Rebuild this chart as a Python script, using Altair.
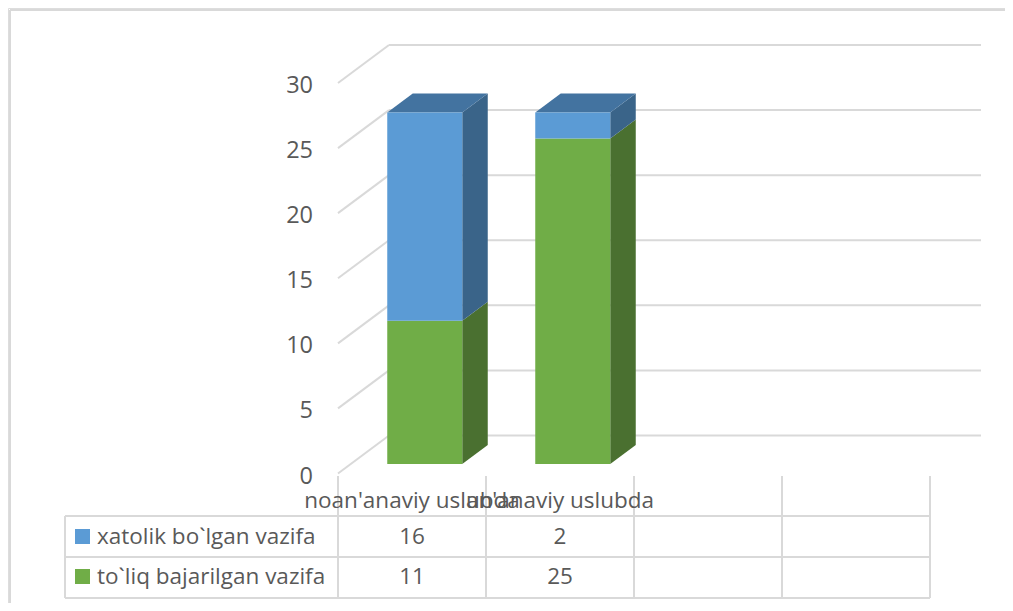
import altair as alt
import pandas as pd

# ---------------- data ----------------
categories = ["noan'anaviy uslubda", "an'anaviy uslubda", "", ""]
series_names = ["xatolik bo`lgan vazifa", "to`liq bajarilgan vazifa"]
xatolik = [16, 2]          # blue, stacked on top
toliq = [11, 25]           # green, bottom
y_ticks = [0, 5, 10, 15, 20, 25, 30]

# ---------------- style / geometry ----------------
FONT = "Open Sans"
TXT = "#595959"
GRID = "#D9D9D9"
DX = 51 / 148.0      # depth shift in x units (full depth)
DY = 38 / 13.02      # depth shift in y units (full depth)
HALF_W = 37.5 / 148.0
D_FRONT, D_BACK = 0.25, 0.75
TS = 22.5            # table text size

keys = ["b_front", "b_side", "b_top", "g_front", "g_side", "g_top"]
cols = ["#5B9BD5", "#3A6489", "#4373A0", "#70AD47", "#4A7030", "#56843A"]

xs = alt.Scale(domain=[0, 4], range=[330, 922], nice=False, zero=False)
ys = alt.Scale(domain=[0, 30], range=[465.5, 75], nice=False, zero=False)
cs = alt.Scale(domain=keys, range=cols)

# ---------------- faces ----------------
fronts, sides, tops = [], [], []
for i in range(len(toliq)):
    c = i + 0.5
    xl, xr = c - HALF_W, c + HALF_W
    segs = [("g", 0, toliq[i]), ("b", toliq[i], toliq[i] + xatolik[i])]
    for s, lo, hi in segs:
        fronts.append(dict(key=f"{s}_front", x=xl + D_FRONT * DX, x2=xr + D_FRONT * DX,
                           y=lo + D_FRONT * DY, y2=hi + D_FRONT * DY))
        for d in (D_FRONT, D_BACK):
            sides.append(dict(face=f"{i}{s}", key=f"{s}_side", x=xr + d * DX,
                              y=lo + d * DY, y2=hi + d * DY))
    top = toliq[i] + xatolik[i]
    for d in (D_FRONT, D_BACK):
        tops.append(dict(face=f"t{i}", key="b_top", y=top + d * DY,
                         x=xl + d * DX, x2=xr + d * DX))

df_front = pd.DataFrame(fronts)
df_side = pd.DataFrame(sides)
df_top = pd.DataFrame(tops)

df_ticks = pd.DataFrame({"v": y_ticks})
df_ticks["x0"] = 0.0
df_ticks["xb"] = DX
df_ticks["xe"] = 4 + DX
df_ticks["vb"] = df_ticks["v"] + DY
df_ticks["lab"] = df_ticks["v"].astype(str)

color = alt.Color("key:N", scale=cs, legend=None)

back_grid = alt.Chart(df_ticks).mark_rule(color=GRID, strokeWidth=2).encode(
    x=alt.X("xb:Q", scale=xs, axis=None), x2="xe:Q",
    y=alt.Y("vb:Q", scale=ys, axis=None))
wall = alt.Chart(df_ticks).mark_rule(color=GRID, strokeWidth=2).encode(
    x=alt.X("x0:Q", scale=xs, axis=None), x2="xb:Q",
    y=alt.Y("v:Q", scale=ys, axis=None), y2="vb:Q")
side_l = alt.Chart(df_side).mark_area(orient="vertical", interpolate="linear").encode(
    x=alt.X("x:Q", scale=xs, axis=None), y=alt.Y("y:Q", scale=ys, axis=None), y2="y2:Q",
    detail="face:N", color=color)
top_l = alt.Chart(df_top).mark_area(orient="horizontal", interpolate="linear").encode(
    y=alt.Y("y:Q", scale=ys, axis=None), x=alt.X("x:Q", scale=xs, axis=None), x2="x2:Q",
    detail="face:N", color=color)
front_l = alt.Chart(df_front).mark_rect().encode(
    x=alt.X("x:Q", scale=xs, axis=None), x2="x2:Q",
    y=alt.Y("y:Q", scale=ys, axis=None), y2="y2:Q", color=color)
ylabels = alt.Chart(df_ticks).mark_text(font=FONT, fontSize=23.5, color=TXT, align="right",
                                        baseline="middle", dx=-25, dy=3).encode(
    x=alt.X("x0:Q", scale=xs, axis=None), y=alt.Y("v:Q", scale=ys, axis=None), text="lab:N")

# ---------------- data table ----------------
df_cols = pd.DataFrame({"b": [0, 1, 2, 3, 4]})
vlines = alt.Chart(df_cols).mark_rule(color=GRID, strokeWidth=2).encode(
    x=alt.X("b:Q", scale=xs, axis=None), y=alt.value(468), y2=alt.value(590))
hl_rows = []
for yy in (508, 549, 590):
    hl_rows.append(alt.Chart(pd.DataFrame({"a": [0]})).mark_rule(color=GRID, strokeWidth=2).encode(
        x=alt.value(57), x2=alt.value(922), y=alt.value(yy)))
left_edge = alt.Chart(pd.DataFrame({"a": [0]})).mark_rule(color=GRID, strokeWidth=2).encode(
    x=alt.value(57), y=alt.value(508), y2=alt.value(590))

df_cat = pd.DataFrame({"cat": categories, "pos": [i + 0.5 for i in range(len(categories))]})
headers = alt.Chart(df_cat).mark_text(font=FONT, fontSize=TS, color=TXT, baseline="middle").encode(
    x=alt.X("pos:Q", scale=xs, axis=None), y=alt.value(493), text="cat:N")

rows = []
for r, (vals, yy) in enumerate([(xatolik, 529), (toliq, 569)]):
    dfv = pd.DataFrame({"pos": [i + 0.5 for i in range(len(vals))], "val": [str(v) for v in vals]})
    rows.append(alt.Chart(dfv).mark_text(font=FONT, fontSize=TS, color=TXT, baseline="middle").encode(
        x=alt.X("pos:Q", scale=xs, axis=None), y=alt.value(yy), text="val:N"))

leg_sw = []
leg_tx = []
for name, k, yy in zip(series_names, ["b_front", "g_front"], (528.5, 568.5)):
    d1 = pd.DataFrame({"name": [name], "key": [k]})
    leg_sw.append(alt.Chart(d1).mark_square(size=225, opacity=1).encode(
        x=alt.value(74.5), y=alt.value(yy), color=color))
    leg_tx.append(alt.Chart(d1).mark_text(font=FONT, fontSize=TS, color=TXT, align="left",
                                          baseline="middle").encode(
        x=alt.value(89), y=alt.value(yy + 0.5), text="name:N"))

border_v = alt.Chart(pd.DataFrame({"a": [0]})).mark_rule(color=GRID, strokeWidth=2).encode(
    x=alt.value(2), y=alt.value(2), y2=alt.value(595))
border_h = alt.Chart(pd.DataFrame({"a": [0]})).mark_rule(color=GRID, strokeWidth=2).encode(
    x=alt.value(2), x2=alt.value(997), y=alt.value(2))

chart = alt.layer(
    border_v, border_h, back_grid, wall, side_l, top_l, front_l, ylabels,
    vlines, left_edge, *hl_rows, headers, *rows, *leg_sw, *leg_tx
).properties(
    width=997, height=595, autosize=alt.AutoSizeParams(type="none"), padding=0
).configure_view(stroke=None).configure(background="white")

chart.save("out.html", embed_options={"renderer": "svg", "actions": False})
